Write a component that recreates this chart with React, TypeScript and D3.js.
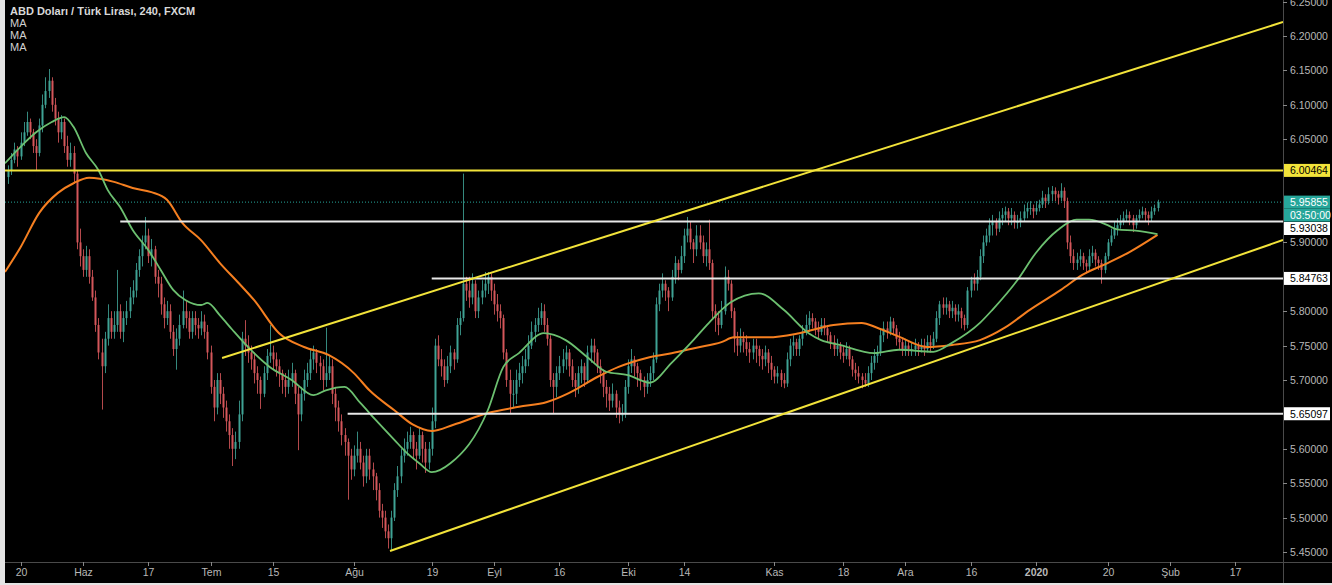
import { useEffect, useRef } from 'react'
import * as d3 from 'd3'

const W = 1332
const H = 585

// USD/TRY, read off the picture as two candles per trading day: [high, low, close]
// open of each candle = previous close
const firstOpen = 5.995
const candles: [number, number, number][] = [
  [6.012, 5.985, 6.005], [6.030, 5.998, 6.020],
  [6.045, 6.015, 6.035], [6.040, 6.010, 6.025],
  [6.060, 6.020, 6.045], [6.075, 6.040, 6.060],
  [6.090, 6.055, 6.075], [6.080, 6.050, 6.060],
  [6.065, 6.030, 6.040], [6.050, 6.005, 6.030],
  [6.080, 6.025, 6.070], [6.115, 6.060, 6.100],
  [6.140, 6.095, 6.120], [6.152, 6.110, 6.135],
  [6.140, 6.090, 6.100], [6.110, 6.070, 6.080],
  [6.090, 6.045, 6.060], [6.085, 6.050, 6.075],
  [6.080, 6.030, 6.040], [6.055, 6.010, 6.020],
  [6.045, 6.010, 6.030], [6.040, 5.985, 6.000],
  [6.005, 5.890, 5.900], [5.920, 5.865, 5.880],
  [5.890, 5.850, 5.860], [5.895, 5.850, 5.880],
  [5.890, 5.840, 5.850], [5.860, 5.815, 5.820],
  [5.830, 5.770, 5.780], [5.790, 5.730, 5.740],
  [5.760, 5.657, 5.720], [5.770, 5.710, 5.760],
  [5.810, 5.750, 5.790], [5.800, 5.760, 5.770],
  [5.800, 5.760, 5.780], [5.860, 5.770, 5.800],
  [5.810, 5.760, 5.770], [5.800, 5.755, 5.790],
  [5.815, 5.780, 5.800], [5.835, 5.790, 5.820],
  [5.845, 5.810, 5.830], [5.870, 5.820, 5.860],
  [5.890, 5.850, 5.880], [5.910, 5.865, 5.900],
  [5.937, 5.890, 5.910], [5.920, 5.870, 5.880],
  [5.905, 5.865, 5.890], [5.895, 5.840, 5.850],
  [5.860, 5.820, 5.840], [5.850, 5.795, 5.810],
  [5.820, 5.775, 5.790], [5.815, 5.780, 5.800],
  [5.810, 5.760, 5.770], [5.780, 5.735, 5.745],
  [5.775, 5.715, 5.760], [5.795, 5.750, 5.780],
  [5.830, 5.775, 5.800], [5.815, 5.775, 5.790],
  [5.800, 5.760, 5.770], [5.800, 5.760, 5.790],
  [5.800, 5.765, 5.780], [5.790, 5.760, 5.775],
  [5.800, 5.765, 5.785], [5.795, 5.760, 5.770],
  [5.780, 5.730, 5.740], [5.750, 5.680, 5.690],
  [5.700, 5.640, 5.660], [5.710, 5.650, 5.700],
  [5.710, 5.665, 5.680], [5.690, 5.645, 5.660],
  [5.670, 5.625, 5.640], [5.650, 5.600, 5.620],
  [5.630, 5.575, 5.600], [5.625, 5.585, 5.610],
  [5.670, 5.600, 5.650], [5.770, 5.640, 5.760],
  [5.787, 5.735, 5.750], [5.765, 5.725, 5.740],
  [5.750, 5.715, 5.730], [5.740, 5.695, 5.710],
  [5.720, 5.680, 5.700], [5.705, 5.658, 5.680],
  [5.720, 5.675, 5.710], [5.745, 5.700, 5.735],
  [5.780, 5.725, 5.740], [5.750, 5.715, 5.730],
  [5.740, 5.705, 5.720], [5.730, 5.690, 5.710],
  [5.715, 5.680, 5.700], [5.710, 5.675, 5.690],
  [5.715, 5.680, 5.700], [5.725, 5.690, 5.710],
  [5.715, 5.665, 5.680], [5.690, 5.598, 5.650],
  [5.690, 5.640, 5.680], [5.715, 5.670, 5.700],
  [5.725, 5.690, 5.710], [5.745, 5.700, 5.730],
  [5.750, 5.715, 5.740], [5.745, 5.710, 5.725],
  [5.735, 5.700, 5.720], [5.730, 5.685, 5.700],
  [5.776, 5.690, 5.710], [5.735, 5.700, 5.720],
  [5.730, 5.665, 5.680], [5.690, 5.640, 5.660],
  [5.670, 5.625, 5.640], [5.650, 5.605, 5.620],
  [5.630, 5.590, 5.610], [5.615, 5.526, 5.590],
  [5.600, 5.555, 5.570], [5.605, 5.560, 5.590],
  [5.625, 5.580, 5.600], [5.610, 5.570, 5.580],
  [5.590, 5.545, 5.560], [5.600, 5.550, 5.590],
  [5.600, 5.555, 5.570], [5.580, 5.540, 5.560],
  [5.565, 5.525, 5.540], [5.550, 5.500, 5.510],
  [5.520, 5.485, 5.500], [5.510, 5.470, 5.480],
  [5.490, 5.455, 5.470], [5.510, 5.453, 5.500],
  [5.550, 5.495, 5.540], [5.575, 5.530, 5.560],
  [5.600, 5.550, 5.590], [5.615, 5.580, 5.600],
  [5.625, 5.590, 5.610], [5.632, 5.600, 5.620],
  [5.625, 5.585, 5.600], [5.610, 5.570, 5.590],
  [5.630, 5.585, 5.620], [5.625, 5.580, 5.600],
  [5.610, 5.565, 5.580], [5.610, 5.570, 5.600],
  [5.660, 5.590, 5.640], [5.760, 5.630, 5.750],
  [5.765, 5.720, 5.730], [5.745, 5.705, 5.720],
  [5.730, 5.690, 5.700], [5.735, 5.695, 5.720],
  [5.750, 5.710, 5.740], [5.745, 5.715, 5.730],
  [5.790, 5.725, 5.780], [5.800, 5.765, 5.790],
  [6.000, 5.785, 5.840], [5.850, 5.815, 5.830],
  [5.850, 5.805, 5.820], [5.855, 5.810, 5.840],
  [5.845, 5.790, 5.800], [5.830, 5.790, 5.820],
  [5.845, 5.810, 5.830], [5.857, 5.820, 5.840],
  [5.857, 5.825, 5.850], [5.855, 5.815, 5.830],
  [5.840, 5.795, 5.810], [5.825, 5.785, 5.800],
  [5.810, 5.775, 5.790], [5.795, 5.730, 5.740],
  [5.745, 5.690, 5.700], [5.715, 5.652, 5.680],
  [5.700, 5.660, 5.680], [5.715, 5.665, 5.700],
  [5.725, 5.690, 5.710], [5.735, 5.695, 5.720],
  [5.745, 5.710, 5.730], [5.765, 5.720, 5.750],
  [5.785, 5.745, 5.770], [5.790, 5.755, 5.780],
  [5.805, 5.770, 5.790], [5.812, 5.780, 5.800],
  [5.810, 5.770, 5.780], [5.790, 5.750, 5.760],
  [5.765, 5.690, 5.700], [5.710, 5.652, 5.690],
  [5.720, 5.675, 5.710], [5.735, 5.700, 5.720],
  [5.745, 5.710, 5.730], [5.750, 5.715, 5.740],
  [5.745, 5.705, 5.720], [5.730, 5.690, 5.700],
  [5.710, 5.675, 5.690], [5.720, 5.680, 5.710],
  [5.730, 5.695, 5.720], [5.725, 5.690, 5.700],
  [5.750, 5.695, 5.740], [5.760, 5.725, 5.750],
  [5.760, 5.725, 5.740], [5.745, 5.710, 5.720],
  [5.730, 5.695, 5.710], [5.715, 5.675, 5.690],
  [5.700, 5.660, 5.680], [5.690, 5.655, 5.670],
  [5.695, 5.660, 5.680], [5.685, 5.645, 5.660],
  [5.670, 5.637, 5.650], [5.665, 5.640, 5.650],
  [5.700, 5.645, 5.690], [5.730, 5.680, 5.720],
  [5.745, 5.710, 5.730], [5.735, 5.705, 5.720],
  [5.725, 5.690, 5.710], [5.715, 5.685, 5.700],
  [5.705, 5.675, 5.690], [5.710, 5.680, 5.700],
  [5.720, 5.690, 5.710], [5.740, 5.700, 5.730],
  [5.820, 5.725, 5.810], [5.840, 5.800, 5.830],
  [5.855, 5.820, 5.840], [5.845, 5.815, 5.830],
  [5.835, 5.800, 5.820], [5.860, 5.815, 5.850],
  [5.880, 5.840, 5.870], [5.875, 5.845, 5.860],
  [5.895, 5.855, 5.880], [5.920, 5.870, 5.910],
  [5.937, 5.900, 5.920], [5.930, 5.890, 5.900],
  [5.905, 5.870, 5.890], [5.925, 5.880, 5.910],
  [5.925, 5.890, 5.900], [5.910, 5.870, 5.880],
  [5.900, 5.865, 5.890], [5.933, 5.860, 5.870],
  [5.875, 5.790, 5.800], [5.810, 5.770, 5.790],
  [5.800, 5.765, 5.780], [5.815, 5.775, 5.800],
  [5.865, 5.795, 5.850], [5.860, 5.830, 5.840],
  [5.845, 5.790, 5.800], [5.805, 5.740, 5.760],
  [5.770, 5.735, 5.750], [5.775, 5.740, 5.760],
  [5.770, 5.740, 5.755], [5.765, 5.735, 5.745],
  [5.755, 5.725, 5.740], [5.760, 5.730, 5.750],
  [5.760, 5.725, 5.745], [5.750, 5.720, 5.735],
  [5.745, 5.715, 5.730], [5.750, 5.720, 5.740],
  [5.745, 5.710, 5.725], [5.735, 5.700, 5.715],
  [5.720, 5.695, 5.705], [5.720, 5.695, 5.710],
  [5.715, 5.690, 5.700], [5.710, 5.688, 5.695],
  [5.740, 5.690, 5.730], [5.760, 5.720, 5.750],
  [5.765, 5.735, 5.755], [5.760, 5.735, 5.745],
  [5.765, 5.735, 5.760], [5.780, 5.750, 5.770],
  [5.795, 5.765, 5.780], [5.800, 5.770, 5.790],
  [5.797, 5.775, 5.785], [5.790, 5.765, 5.775],
  [5.785, 5.760, 5.770], [5.790, 5.765, 5.780],
  [5.790, 5.765, 5.775], [5.780, 5.755, 5.765],
  [5.770, 5.745, 5.755], [5.765, 5.735, 5.745],
  [5.760, 5.735, 5.750], [5.755, 5.730, 5.740],
  [5.750, 5.725, 5.735], [5.755, 5.730, 5.745],
  [5.750, 5.720, 5.730], [5.735, 5.705, 5.715],
  [5.725, 5.700, 5.710], [5.720, 5.695, 5.705],
  [5.710, 5.688, 5.700], [5.710, 5.690, 5.695],
  [5.720, 5.690, 5.710], [5.735, 5.700, 5.725],
  [5.745, 5.715, 5.735], [5.750, 5.725, 5.740],
  [5.775, 5.735, 5.765], [5.785, 5.755, 5.775],
  [5.785, 5.760, 5.770], [5.792, 5.765, 5.785],
  [5.790, 5.765, 5.775], [5.780, 5.750, 5.760],
  [5.770, 5.745, 5.755], [5.760, 5.735, 5.745],
  [5.760, 5.735, 5.750], [5.755, 5.735, 5.745],
  [5.755, 5.735, 5.745], [5.760, 5.735, 5.750],
  [5.755, 5.735, 5.745], [5.760, 5.740, 5.750],
  [5.760, 5.735, 5.745], [5.765, 5.740, 5.755],
  [5.765, 5.740, 5.750], [5.770, 5.745, 5.760],
  [5.800, 5.755, 5.790], [5.815, 5.780, 5.810],
  [5.820, 5.795, 5.805], [5.820, 5.795, 5.810],
  [5.815, 5.790, 5.800], [5.815, 5.790, 5.805],
  [5.810, 5.785, 5.795], [5.810, 5.785, 5.800],
  [5.805, 5.775, 5.790], [5.795, 5.772, 5.780],
  [5.835, 5.775, 5.830], [5.850, 5.820, 5.845],
  [5.855, 5.830, 5.840], [5.860, 5.830, 5.850],
  [5.890, 5.845, 5.880], [5.910, 5.870, 5.900],
  [5.920, 5.895, 5.910], [5.935, 5.900, 5.925],
  [5.940, 5.910, 5.930], [5.935, 5.910, 5.920],
  [5.945, 5.915, 5.935], [5.950, 5.925, 5.940],
  [5.952, 5.930, 5.945], [5.950, 5.925, 5.935],
  [5.950, 5.925, 5.940], [5.945, 5.920, 5.930],
  [5.940, 5.920, 5.930], [5.945, 5.922, 5.935],
  [5.955, 5.930, 5.945], [5.958, 5.935, 5.950],
  [5.960, 5.940, 5.950], [5.955, 5.935, 5.945],
  [5.960, 5.940, 5.950], [5.962, 5.945, 5.955],
  [5.975, 5.950, 5.965], [5.970, 5.950, 5.960],
  [5.980, 5.955, 5.970], [5.982, 5.960, 5.975],
  [5.980, 5.960, 5.970], [5.975, 5.955, 5.965],
  [5.986, 5.960, 5.975], [5.980, 5.950, 5.960],
  [5.965, 5.890, 5.900], [5.910, 5.870, 5.880],
  [5.890, 5.860, 5.870], [5.885, 5.860, 5.875],
  [5.890, 5.865, 5.880], [5.885, 5.860, 5.870],
  [5.875, 5.855, 5.865], [5.890, 5.860, 5.880],
  [5.895, 5.870, 5.885], [5.890, 5.865, 5.875],
  [5.880, 5.860, 5.870], [5.875, 5.840, 5.860],
  [5.885, 5.855, 5.880], [5.905, 5.875, 5.900],
  [5.920, 5.895, 5.910], [5.930, 5.905, 5.920],
  [5.935, 5.910, 5.925], [5.940, 5.920, 5.930],
  [5.945, 5.925, 5.935], [5.948, 5.930, 5.940],
  [5.945, 5.925, 5.935], [5.940, 5.915, 5.925],
  [5.940, 5.920, 5.935], [5.948, 5.930, 5.940],
  [5.952, 5.935, 5.945], [5.950, 5.930, 5.940],
  [5.945, 5.925, 5.935], [5.952, 5.930, 5.945],
  [5.955, 5.940, 5.950], [5.962, 5.945, 5.95855],
]

// moving averages: [candle index, value]
const fastMa: [number, number][] = [
  [-1, 6.015], [4, 6.039], [9, 6.06], [14, 6.075], [18, 6.082], [21, 6.068], [25, 6.03],
  [29, 6.005], [32, 5.976], [36, 5.951], [40, 5.918], [45, 5.889], [49, 5.86], [53, 5.831],
  [57, 5.816], [62, 5.809], [64, 5.812], [68, 5.794], [72, 5.773], [77, 5.748], [84, 5.719],
  [91, 5.7], [98, 5.678], [102, 5.685], [108, 5.69], [113, 5.667], [118, 5.642], [124, 5.613],
  [128, 5.594], [132, 5.579], [136, 5.566], [142, 5.579], [154, 5.656], [159, 5.719],
  [164, 5.739], [172, 5.768], [179, 5.758], [186, 5.733], [192, 5.712], [199, 5.707],
  [206, 5.696], [213, 5.725], [220, 5.758], [225, 5.783], [232, 5.813], [241, 5.826],
  [249, 5.802], [257, 5.768], [261, 5.758], [267, 5.751], [278, 5.739], [286, 5.744],
  [297, 5.741], [303, 5.754], [312, 5.783], [316, 5.802], [324, 5.845], [330, 5.885],
  [337, 5.918], [343, 5.933], [347, 5.933], [353, 5.925], [356, 5.919], [362, 5.917],
  [369, 5.912],
]
const slowMa: [number, number][] = [
  [-1, 5.857], [4, 5.893], [10, 5.943], [16, 5.972], [21, 5.986], [26, 5.994], [34, 5.988],
  [40, 5.979], [46, 5.973], [51, 5.962], [56, 5.928], [62, 5.903], [68, 5.87], [74, 5.841],
  [79, 5.816], [87, 5.768], [95, 5.748], [103, 5.736], [111, 5.71], [116, 5.685],
  [124, 5.656], [130, 5.635], [136, 5.626], [143, 5.635], [154, 5.652], [164, 5.661],
  [173, 5.668], [180, 5.681], [189, 5.704], [196, 5.719], [205, 5.732], [213, 5.739],
  [221, 5.747], [229, 5.755], [233, 5.762], [244, 5.762], [254, 5.768], [265, 5.78],
  [274, 5.783], [279, 5.776], [286, 5.763], [295, 5.748], [303, 5.751], [312, 5.758],
  [320, 5.776], [328, 5.802], [338, 5.831], [345, 5.853], [353, 5.87], [360, 5.886],
  [369, 5.911],
]

// time axis: candle index of each label
const tickBars = [4, 24, 45, 65, 85, 111, 136, 156, 177, 199, 217, 246, 268, 288, 309, 330, 353, 373, 394]
const tickLabels = ['20', 'Haz', '17', 'Tem', '15', 'Ağu', '19', 'Eyl', '16', 'Eki', '14', 'Kas', '18', 'Ara', '16', '2020', '20', 'Şub', '17']

const priceTicks = [6.25, 6.2, 6.15, 6.1, 6.05, 5.9, 5.8, 5.75, 5.7, 5.6, 5.55, 5.5, 5.45]

// drawings: horizontal levels [start candle, price] and channel lines
const yellowLevel = 6.00464
const whiteLevels: [number, number][] = [[36, 5.93038], [136, 5.84763], [109, 5.65097]]
const channelUpper: [number, number][] = [[68.7, 5.732], [409.3, 6.2203]]
const channelLower: [number, number][] = [[122.6, 5.4515], [409.3, 5.9035]]
const lastPrice = 5.95855
const countdown = '03:50:00'

const title = 'ABD Doları / Türk Lirası, 240, FXCM'
const legend = ['MA', 'MA', 'MA']

export default function App() {
  const svgRef = useRef<SVGSVGElement>(null)

  useEffect(() => {
    if (!svgRef.current) return
    const svg = d3.select(svgRef.current)
    svg.selectAll('*').remove()

    const left = 5
    const right = 1283
    const bottom = 562
    const font = "'Liberation Sans', Arial, sans-serif"

    const x = d3.scaleLinear().domain([0, candles.length - 1]).range([8.1, 1157.5])
    const y = d3.scaleLinear().domain([5.45, 6.2]).range([552, 36])

    svg.append('rect').attr('width', W).attr('height', H).attr('fill', '#000')
    // page edges around the chart
    svg.append('rect').attr('width', left).attr('height', H).attr('fill', '#e4e4e4')
    svg.append('rect').attr('y', H - 2).attr('width', W).attr('height', 2).attr('fill', '#e4e4e4')

    svg.append('clipPath').attr('id', 'plot')
      .append('rect').attr('x', left).attr('y', 0).attr('width', right - left).attr('height', bottom)
    const g = svg.append('g').attr('clip-path', 'url(#plot)')

    // last price dotted line
    g.append('line')
      .attr('x1', left).attr('x2', right)
      .attr('y1', y(lastPrice)).attr('y2', y(lastPrice))
      .attr('stroke', '#26a69a').attr('stroke-width', 1).attr('stroke-dasharray', '1 2')

    // candles
    const up = '#3fa294'
    const down = '#d4565a'
    candles.forEach(([hi, lo, c], i) => {
      const o = i === 0 ? firstOpen : candles[i - 1][2]
      const col = c >= o ? up : down
      const cx = Math.round(x(i))
      g.append('line')
        .attr('x1', cx + 0.5).attr('x2', cx + 0.5)
        .attr('y1', y(hi)).attr('y2', y(lo))
        .attr('stroke', col).attr('stroke-width', 1).attr('opacity', 0.85)
      const top = y(Math.max(o, c))
      g.append('rect')
        .attr('x', cx - 0.5).attr('y', top)
        .attr('width', 2).attr('height', Math.max(1, y(Math.min(o, c)) - top))
        .attr('fill', col)
    })

    // moving averages
    const line = d3.line<[number, number]>()
      .x(d => x(d[0])).y(d => y(d[1]))
      .curve(d3.curveMonotoneX)
    g.append('path').attr('d', line(slowMa)).attr('fill', 'none')
      .attr('stroke', '#f57f20').attr('stroke-width', 2)
    g.append('path').attr('d', line(fastMa)).attr('fill', 'none')
      .attr('stroke', '#6cc070').attr('stroke-width', 1.8)

    // horizontal levels
    g.append('line')
      .attr('x1', left).attr('x2', right)
      .attr('y1', y(yellowLevel)).attr('y2', y(yellowLevel))
      .attr('stroke', '#f2e33a').attr('stroke-width', 2)
    whiteLevels.forEach(([from, p]) => {
      g.append('line')
        .attr('x1', x(from)).attr('x2', right)
        .attr('y1', y(p)).attr('y2', y(p))
        .attr('stroke', '#e8e8e8').attr('stroke-width', 2)
    })
    ;[channelUpper, channelLower].forEach(pts => {
      g.append('line')
        .attr('x1', x(pts[0][0])).attr('y1', y(pts[0][1]))
        .attr('x2', x(pts[1][0])).attr('y2', y(pts[1][1]))
        .attr('stroke', '#f2e33a').attr('stroke-width', 2)
    })

    // axes frame
    svg.append('line').attr('x1', right + 0.5).attr('x2', right + 0.5).attr('y1', 0).attr('y2', H - 2)
      .attr('stroke', '#4a4a4a')
    svg.append('line').attr('x1', left).attr('x2', W).attr('y1', bottom + 0.5).attr('y2', bottom + 0.5)
      .attr('stroke', '#4a4a4a')

    // price axis
    priceTicks.forEach(p => {
      svg.append('line').attr('x1', right).attr('x2', right + 4)
        .attr('y1', Math.round(y(p)) + 0.5).attr('y2', Math.round(y(p)) + 0.5)
        .attr('stroke', '#888')
      svg.append('text').attr('x', right + 7).attr('y', y(p) + 4)
        .attr('font-family', font).attr('font-size', 10.5).attr('fill', '#b8b8b8')
        .text(d3.format('.5f')(p))
    })

    const tag = (cy: number, txt: string, bg: string, fg: string) => {
      svg.append('rect').attr('x', right + 1).attr('y', cy - 6.5).attr('width', 46).attr('height', 13)
        .attr('fill', bg)
      svg.append('text').attr('x', right + 7).attr('y', cy + 4)
        .attr('font-family', font).attr('font-size', 10.5).attr('fill', fg).text(txt)
    }
    tag(y(yellowLevel), d3.format('.5f')(yellowLevel), '#f2e33a', '#000')
    tag(y(lastPrice), d3.format('.5f')(lastPrice), '#26a69a', '#fff')
    tag(y(lastPrice) + 13, countdown, '#26a69a', '#fff')
    tag(y(whiteLevels[0][1]) + 7, d3.format('.5f')(whiteLevels[0][1]), '#fff', '#000')
    tag(y(whiteLevels[1][1]), d3.format('.5f')(whiteLevels[1][1]), '#fff', '#000')
    tag(y(whiteLevels[2][1]), d3.format('.5f')(whiteLevels[2][1]), '#fff', '#000')

    // time axis
    tickBars.forEach((b, i) => {
      const tx = Math.round(x(b)) + 0.5
      svg.append('line').attr('x1', tx).attr('x2', tx).attr('y1', bottom).attr('y2', bottom + 4)
        .attr('stroke', '#888')
      svg.append('text').attr('x', tx).attr('y', 576).attr('text-anchor', 'middle')
        .attr('font-family', font).attr('font-size', 10.5).attr('fill', '#b8b8b8')
        .attr('font-weight', tickLabels[i] === '2020' ? 'bold' : 'normal')
        .text(tickLabels[i])
    })

    // title & legend
    svg.append('text').attr('x', 10).attr('y', 15)
      .attr('font-family', font).attr('font-size', 11).attr('font-weight', 'bold').attr('fill', '#d8d8d8')
      .text(title)
    legend.forEach((t, i) => {
      svg.append('text').attr('x', 10).attr('y', 27 + i * 12)
        .attr('font-family', font).attr('font-size', 11).attr('fill', '#d0d0d0').text(t)
    })
  }, [])

  return (
    <svg ref={svgRef} width={W} height={H}
      style={{ position: 'fixed', left: 0, top: 0, display: 'block' }} />
  )
}
